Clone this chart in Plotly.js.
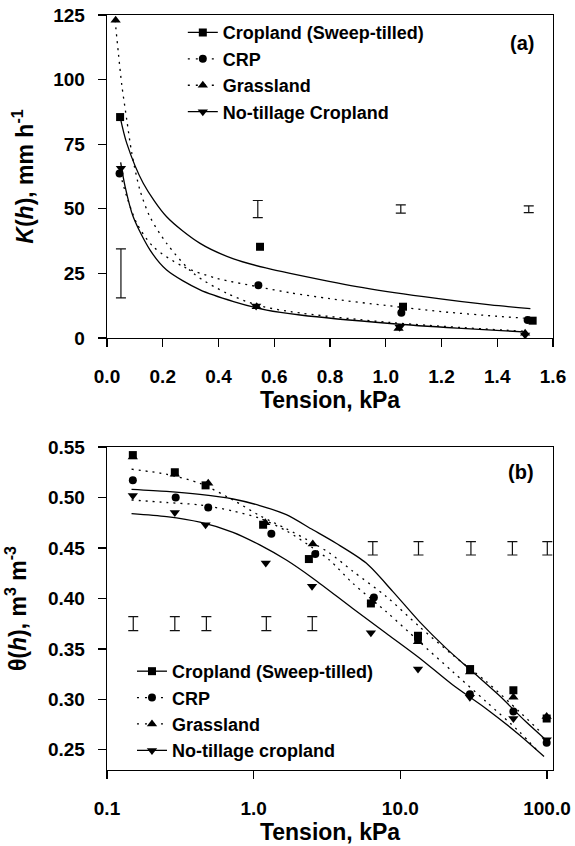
<!DOCTYPE html>
<html><head><meta charset="utf-8">
<script src="https://cdn.plot.ly/plotly-3.0.1.min.js"></script>
<style>html,body{margin:0;padding:0;background:#fff}</style>
</head><body><div id="chart" style="width:575px;height:846px"></div>
<script>
// ---------- Panel (a): K(h) ----------
const seriesNamesA = ['Cropland (Sweep-tilled)', 'CRP', 'Grassland', 'No-tillage Cropland'];
const kCropX = [0.047, 0.549, 1.062, 1.527];
const kCropY = [85.5, 35.3, 12.1, 6.7];
const kCrpX = [0.045, 0.543, 1.056, 1.509];
const kCrpY = [63.7, 20.4, 9.8, 7.0];
const kGrassX = [0.031, 0.537, 1.046, 1.500];
const kGrassY = [123, 12.1, 3.7, 1.8];
const kNtX = [0.050, 0.535, 1.050, 1.500];
const kNtY = [65.7, 12.4, 4.2, 1.2];

const kCropFitX = [0.047, 0.071, 0.13, 0.214, 0.334, 0.454, 0.573, 0.657, 0.896, 1.136, 1.375, 1.519];
const kCropFitY = [85.6, 75.3, 59.9, 46.9, 36.6, 30.6, 27.0, 25.0, 19.9, 16.0, 12.8, 11.4];
const kCrpFitX = [0.047, 0.071, 0.107, 0.166, 0.274, 0.394, 0.543, 0.657, 0.8, 1.0, 1.2, 1.4, 1.495];
const kCrpFitY = [63.7, 54.7, 44.4, 35.3, 27.6, 23.1, 19.8, 17.5, 15.2, 12.6, 10.2, 8.4, 7.7];
const kGrassFitX = [0.029, 0.041, 0.053, 0.071, 0.089, 0.118, 0.154, 0.214, 0.310, 0.430, 0.537, 0.657, 1.016, 1.495];
const kGrassFitY = [123, 110, 98, 84.4, 71.5, 57.3, 46.9, 36.6, 25.0, 17.3, 12.8, 10.2, 6.0, 2.6];
const kNtFitX = [0.049, 0.065, 0.094, 0.154, 0.214, 0.334, 0.454, 0.573, 0.693, 1.016, 1.256, 1.507];
const kNtFitY = [68.0, 58.6, 46.9, 34.1, 26.3, 18.6, 14.1, 10.8, 8.9, 5.6, 3.8, 2.3];

const kErrX = [0.050, 0.541, 1.054, 1.513];
const kErrY = [25.0, 49.9, 49.9, 49.8];
const kErrHalf = [9.5, 3.3, 1.6, 1.3];

// ---------- Panel (b): theta(h) ----------
const seriesNamesB = ['Cropland (Sweep-tilled)', 'CRP', 'Grassland', 'No-tillage cropland'];
const tCropX = [0.15, 0.29, 0.47, 1.16, 2.38, 6.3, 13.2, 29.9, 59, 99.5];
const tCropY = [0.542, 0.525, 0.512, 0.473, 0.439, 0.395, 0.363, 0.330, 0.309, 0.281];
const tCrpX = [0.15, 0.294, 0.49, 1.32, 2.63, 6.6, 13.2, 29.8, 59, 99.5];
const tCrpY = [0.517, 0.500, 0.490, 0.464, 0.444, 0.401, 0.359, 0.305, 0.288, 0.257];
const tGrassX = [0.15, 0.29, 0.49, 1.2, 2.53, 6.4, 13.2, 29.9, 59, 99.5];
const tGrassY = [0.540, 0.523, 0.514, 0.475, 0.454, 0.397, 0.357, 0.327, 0.302, 0.283];
const tNtX = [0.15, 0.29, 0.47, 1.21, 2.5, 6.3, 13.2, 29.8, 59, 99.5];
const tNtY = [0.502, 0.485, 0.473, 0.435, 0.412, 0.366, 0.330, 0.302, 0.281, 0.260];

const tCropFitX = [0.147, 0.255, 0.43, 0.723, 1.10, 1.67, 2.53, 3.65, 5.85, 8.87, 13.5, 20.4, 31.0, 47.1, 71.6, 98];
const tCropFitY = [0.508, 0.506, 0.503, 0.4985, 0.492, 0.483, 0.468, 0.4546, 0.435, 0.407, 0.377, 0.351, 0.3275, 0.304, 0.278, 0.260];
const tCrpFitX = [0.147, 0.255, 0.43, 0.723, 1.10, 1.67, 2.53, 3.29, 4.74, 8.0, 13.5, 22.7, 38.3, 64.6, 85];
const tCrpFitY = [0.4975, 0.495, 0.4926, 0.4866, 0.4794, 0.467, 0.450, 0.438, 0.415, 0.387, 0.357, 0.3275, 0.298, 0.268, 0.250];
const tGrassFitX = [0.147, 0.255, 0.43, 0.723, 1.10, 1.67, 2.53, 3.29, 4.74, 8.0, 13.5, 22.7, 38.3, 64.6, 90];
const tGrassFitY = [0.528, 0.523, 0.514, 0.4975, 0.482, 0.469, 0.455, 0.445, 0.427, 0.402, 0.372, 0.344, 0.318, 0.288, 0.268];
const tNtFitX = [0.147, 0.255, 0.43, 0.723, 1.10, 1.67, 2.53, 4.74, 8.0, 13.5, 22.7, 38.3, 64.6, 95.5];
const tNtFitY = [0.484, 0.481, 0.4755, 0.4655, 0.453, 0.438, 0.420, 0.390, 0.3655, 0.341, 0.3144, 0.291, 0.265, 0.2434];

const tErrX = [0.151, 0.290, 0.476, 1.22, 2.51, 6.49, 13.3, 30.3, 58.1, 100.5];
const tErrY = [0.375, 0.375, 0.375, 0.375, 0.375, 0.4496, 0.4496, 0.4496, 0.4496, 0.4496];
const tErrHalf = [0.007, 0.007, 0.007, 0.007, 0.007, 0.0066, 0.0066, 0.0066, 0.0066, 0.0066];

const xTickValsB = [0.1, 1, 10, 100];
const xTickTextB = ['0.1', '1.0', '10.0', '100.0'];

// ---------- styles ----------
const FONT = 'Liberation Sans, Arial, sans-serif';
const DOTS = '2px,5px';
const styles = [
  {dash: 'solid', symbol: 'square', size: 8},
  {dash: DOTS, symbol: 'circle', size: 8},
  {dash: DOTS, symbol: 'triangle-up', size: 9},
  {dash: 'solid', symbol: 'triangle-down', size: 9}
];

const traces = [];
function addPanel(xa, ya, legend, names, pts, fits, err) {
  pts.forEach((p, i) => {
    traces.push({x: fits[i][0], y: fits[i][1], xaxis: xa, yaxis: ya, mode: 'lines', showlegend: false,
      line: {color: 'black', width: 1.3, dash: styles[i].dash, shape: 'spline', smoothing: 0.8}, hoverinfo: 'skip'});
  });
  pts.forEach((p, i) => {
    traces.push({x: p[0], y: p[1], xaxis: xa, yaxis: ya, mode: 'markers', showlegend: false,
      marker: {color: 'black', symbol: styles[i].symbol, size: styles[i].size}});
  });
  traces.push({x: err[0], y: err[1], xaxis: xa, yaxis: ya, mode: 'markers', showlegend: false,
    marker: {size: 1, color: 'rgba(0,0,0,0)'},
    error_y: {type: 'data', array: err[2], visible: true, color: '#111', thickness: 1.2, width: 5}});
  names.forEach((n, i) => {
    traces.push({x: [null], y: [null], xaxis: xa, yaxis: ya, mode: 'lines+markers', name: n, legend: legend,
      line: {color: 'black', width: 1.3, dash: i === 0 || i === 3 ? 'solid' : '2px,6px'},
      marker: {color: 'black', symbol: styles[i].symbol, size: styles[i].size}});
  });
}

addPanel('x', 'y', 'legend', seriesNamesA,
  [[kCropX, kCropY], [kCrpX, kCrpY], [kGrassX, kGrassY], [kNtX, kNtY]],
  [[kCropFitX, kCropFitY], [kCrpFitX, kCrpFitY], [kGrassFitX, kGrassFitY], [kNtFitX, kNtFitY]],
  [kErrX, kErrY, kErrHalf]);
addPanel('x2', 'y2', 'legend2', seriesNamesB,
  [[tCropX, tCropY], [tCrpX, tCrpY], [tGrassX, tGrassY], [tNtX, tNtY]],
  [[tCropFitX, tCropFitY], [tCrpFitX, tCrpFitY], [tGrassFitX, tGrassFitY], [tNtFitX, tNtFitY]],
  [tErrX, tErrY, tErrHalf]);

const tickFont = {family: FONT, size: 19, color: 'black', weight: 'bold'};
const titleFont = {family: FONT, size: 23, color: 'black', weight: 'bold'};
const axBase = {
  showline: true, mirror: true, linecolor: 'black', linewidth: 1.3,
  ticks: 'outside', ticklen: 8, tickwidth: 1.3, tickcolor: 'black',
  showgrid: false, zeroline: false, tickfont: tickFont
};
const xBase = Object.assign({}, axBase, {ticklabelstandoff: 13});
const yBase = Object.assign({}, axBase, {ticklabelstandoff: 9});

const layout = {
  width: 575, height: 846,
  margin: {l: 107, r: 22, t: 15, b: 76},
  paper_bgcolor: 'white', plot_bgcolor: 'white',
  font: {family: FONT, size: 19, color: 'black', weight: 'bold'},
  xaxis: Object.assign({}, xBase, {anchor: 'y', domain: [0, 1], range: [0, 1.6], tick0: 0, dtick: 0.2, tickformat: '.1f',
    title: {text: 'Tension, kPa', font: titleFont, standoff: 4}}),
  yaxis: Object.assign({}, yBase, {anchor: 'x', domain: [0.5722, 1], range: [0, 125], tick0: 0, dtick: 25,
    title: {text: '<i>K</i>(<i>h</i>), mm h<sup>-1</sup>', font: titleFont, standoff: 13}}),
  xaxis2: Object.assign({}, xBase, {anchor: 'y2', domain: [0, 1], type: 'log', range: [-1, 2.041],
    tickmode: 'array', tickvals: xTickValsB, ticktext: xTickTextB,
    title: {text: 'Tension, kPa', font: titleFont, standoff: 4}}),
  yaxis2: Object.assign({}, yBase, {anchor: 'x2', domain: [0, 0.4278], range: [0.23, 0.55], tick0: 0.25, dtick: 0.05, tickformat: '.2f',
    title: {text: 'θ(<i>h</i>), m<sup>3</sup> m<sup>-3</sup>', font: titleFont, standoff: 15}}),
  legend: {x: 0.170, y: 1.001, xanchor: 'left', yanchor: 'top', bgcolor: 'rgba(0,0,0,0)',
    font: {family: FONT, size: 18, color: 'black', weight: 'bold'}, tracegroupgap: 0},
  legend2: {x: 0.056, y: 0.155, xanchor: 'left', yanchor: 'top', bgcolor: 'rgba(0,0,0,0)',
    font: {family: FONT, size: 18, color: 'black', weight: 'bold'}, tracegroupgap: 0},
  annotations: [
    {xref: 'paper', yref: 'paper', x: 0.930, y: 0.963, xanchor: 'center', yanchor: 'middle', text: '(a)', showarrow: false, font: {family: FONT, size: 20, color: 'black', weight: 'bold'}},
    {xref: 'paper', yref: 'paper', x: 0.928, y: 0.3947, xanchor: 'center', yanchor: 'middle', text: '(b)', showarrow: false, font: {family: FONT, size: 20, color: 'black', weight: 'bold'}}
  ],
  showlegend: true
};

Plotly.newPlot('chart', traces, layout, {displayModeBar: false, staticPlot: true});
</script></body></html>
